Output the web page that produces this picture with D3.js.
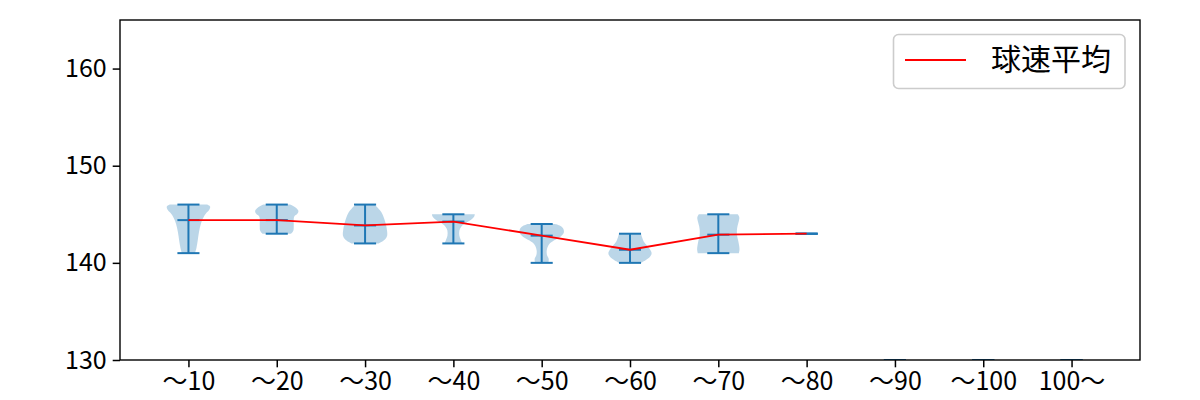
<!DOCTYPE html>
<html>
<head>
<meta charset="utf-8">
<script src="https://cdn.jsdelivr.net/npm/d3@7"></script>
<style>
  html, body { margin: 0; padding: 0; background: #fff; }
  svg { display: block; font-family: "Noto Sans CJK JP", "Noto Sans", sans-serif; }
</style>
</head>
<body>
<svg id="chart" width="1200" height="400"></svg>
<script>
// ---- data ----
const categories = ["～10", "～20", "～30", "～40", "～50", "～60", "～70", "～80", "～90", "～100", "100～"];
const means = [144.4, 144.4, 143.85, 144.25, 142.8, 141.35, 142.9, 143.0, null, null, null];
const mins  = [141, 143, 142, 142, 140, 140, 141, 143, 130, 130, 130];
const maxs  = [146, 146, 146, 145, 144, 143, 145, 143, 130, 130, 130];
const yTicks = [130, 140, 150, 160];
const legendLabel = "球速平均";
// violin outlines: [speed, relative half-width]
const profiles = [
  [[146.0,0.85],[145.8,0.98],[145.5,0.95],[145.1,0.8],[144.6,0.66],[144.0,0.56],[143.2,0.48],[142.3,0.42],[141.5,0.36],[141.0,0.3]],
  [[146.0,0.6],[145.7,0.85],[145.35,0.98],[145.05,0.93],[144.8,0.8],[144.5,0.77],[143.8,0.77],[143.3,0.75],[143.0,0.65]],
  [[146.0,0.42],[145.6,0.6],[145.2,0.74],[144.6,0.86],[144.0,0.94],[143.4,0.99],[142.8,1.0],[142.4,0.9],[142.0,0.62]],
  [[145.0,0.97],[144.8,0.95],[144.5,0.83],[144.1,0.55],[143.7,0.35],[143.3,0.27],[142.8,0.27],[142.4,0.33],[142.0,0.4]],
  [[144.0,0.6],[143.8,0.85],[143.5,0.98],[143.1,1.0],[142.7,0.85],[142.3,0.55],[141.9,0.33],[141.3,0.23],[140.8,0.24],[140.4,0.32],[140.0,0.3]],
  [[143.0,0.5],[142.6,0.55],[142.2,0.62],[141.8,0.76],[141.4,0.9],[141.0,0.98],[140.6,0.9],[140.3,0.72],[140.0,0.5]],
  [[145.0,0.88],[144.7,0.95],[144.3,0.93],[143.8,0.87],[143.3,0.84],[142.8,0.85],[142.3,0.9],[141.8,0.94],[141.4,0.96],[141.0,0.93]],
  [], [], [], []
];

// ---- layout ----
const m = { left: 120, right: 1140, top: 20, bottom: 360 };
const blue = "#1f77b4";
const svg = d3.select("#chart");

const x = d3.scaleLinear().domain([0.225, 11.775]).range([m.left, m.right]);
const y = d3.scaleLinear().domain([130, 165]).range([m.bottom, m.top]);
const unit = x(2) - x(1);
const halfW = 0.25 * unit;
const capW = 0.125 * unit;

svg.append("defs").append("clipPath").attr("id", "clip")
  .append("rect").attr("x", m.left).attr("y", m.top)
  .attr("width", m.right - m.left).attr("height", m.bottom - m.top);

const plot = svg.append("g").attr("clip-path", "url(#clip)");

// violin bodies
profiles.forEach((prof, i) => {
  if (!prof.length) return;
  const cx = x(i + 1);
  const area = d3.area()
    .y(d => y(d[0]))
    .x0(d => cx - d[1] * halfW)
    .x1(d => cx + d[1] * halfW)
    .curve(d3.curveCatmullRom);
  plot.append("path").attr("d", area(prof))
    .attr("fill", blue).attr("fill-opacity", 0.3).attr("stroke", "none");
});

// violin lines
categories.forEach((c, i) => {
  const cx = x(i + 1);
  const g = plot.append("g").attr("stroke", blue).attr("stroke-width", 2);
  g.append("line").attr("x1", cx).attr("x2", cx).attr("y1", y(mins[i])).attr("y2", y(maxs[i]));
  [mins[i], maxs[i]].forEach(v => {
    g.append("line").attr("x1", cx - capW).attr("x2", cx + capW).attr("y1", y(v)).attr("y2", y(v));
  });
  if (means[i] != null) {
    g.append("line").attr("x1", cx - capW).attr("x2", cx + capW).attr("y1", y(means[i])).attr("y2", y(means[i]));
  }
});

// mean line
const line = d3.line()
  .defined(d => d[1] != null)
  .x(d => x(d[0]))
  .y(d => y(d[1]));
plot.append("path")
  .attr("d", line(means.map((v, i) => [i + 1, v])))
  .attr("fill", "none").attr("stroke", "red").attr("stroke-width", 1.8);

// axes
const tickFont = 25;
const xAxis = d3.axisBottom(x)
  .tickValues(d3.range(1, categories.length + 1))
  .tickFormat(d => categories[d - 1])
  .tickSizeInner(7.3).tickSizeOuter(0).tickPadding(5);
const gx = svg.append("g").attr("transform", `translate(0,${m.bottom})`).call(xAxis);
const yAxis = d3.axisLeft(y).tickValues(yTicks).tickFormat(d3.format("d"))
  .tickSizeInner(7.3).tickSizeOuter(0).tickPadding(6);
const gy = svg.append("g").attr("transform", `translate(${m.left},0)`).call(yAxis);
[gx, gy].forEach(g => {
  g.select(".domain").remove();
  g.selectAll(".tick line").attr("stroke", "#000").attr("stroke-width", 1.5);
  g.selectAll(".tick text").attr("fill", "#000")
    .style("font-size", tickFont + "px")
    .style("font-family", '"Noto Sans CJK JP", sans-serif');
});

// frame
svg.append("rect").attr("x", m.left).attr("y", m.top)
  .attr("width", m.right - m.left).attr("height", m.bottom - m.top)
  .attr("fill", "none").attr("stroke", "#000").attr("stroke-width", 1.4);

// legend
const lg = svg.append("g");
lg.append("rect").attr("x", 893.5).attr("y", 34.5).attr("width", 231.5).attr("height", 54)
  .attr("rx", 5).attr("ry", 5)
  .attr("fill", "#fff").attr("fill-opacity", 0.8)
  .attr("stroke", "#cccccc").attr("stroke-width", 1.6);
lg.append("line").attr("x1", 905).attr("x2", 966).attr("y1", 60).attr("y2", 60)
  .attr("stroke", "red").attr("stroke-width", 1.8);
lg.append("text").attr("x", 991).attr("y", 70)
  .attr("fill", "#000")
  .style("font-size", "30px")
  .style("font-family", '"Noto Sans CJK JP", sans-serif')
  .text(legendLabel);
</script>
</body>
</html>
